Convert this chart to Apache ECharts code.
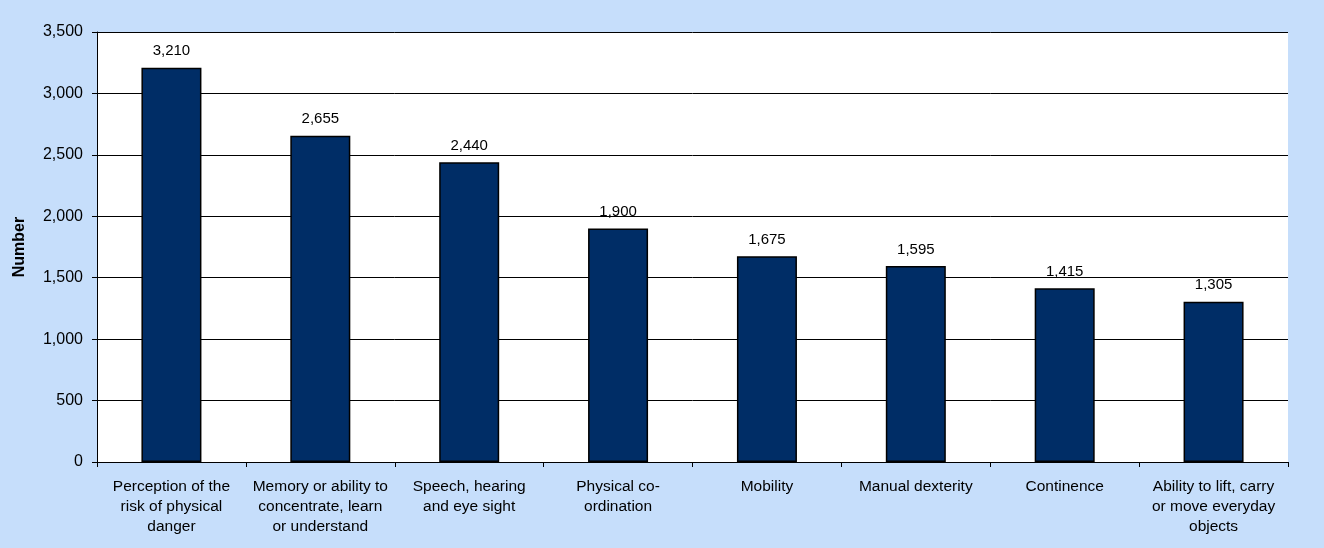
<!DOCTYPE html>
<html>
<head>
<meta charset="utf-8">
<script src="https://cdn.jsdelivr.net/npm/echarts@6/dist/echarts.min.js"></script>
<style>html,body{margin:0;padding:0;background:#C6DEFB;}#c{width:1324px;height:548px;}</style>
</head>
<body>
<div id="c"></div>
<script>
var categories = [
  "Perception of the\nrisk of physical\ndanger",
  "Memory or ability to\nconcentrate, learn\nor understand",
  "Speech, hearing\nand eye sight",
  "Physical co-\nordination",
  "Mobility",
  "Manual dexterity",
  "Continence",
  "Ability to lift, carry\nor move everyday\nobjects"
];
var values = [3210, 2655, 2440, 1900, 1675, 1595, 1415, 1305];
var yTicks = [0, 500, 1000, 1500, 2000, 2500, 3000, 3500];

function fmt(v){ return String(v).replace(/\B(?=(\d{3})+(?!\d))/g, ","); }

var chart = echarts.init(document.getElementById('c'));
chart.setOption({
  backgroundColor: '#C6DEFB',
  animation: false,
  textStyle: { fontFamily: 'Liberation Sans, Arial, sans-serif' },
  graphic: [{
    type: 'rect', shape: { x: 97, y: 32, width: 1191, height: 430 },
    style: { fill: '#ffffff' }, z: -10, silent: true
  }],
  grid: { left: 97, right: 36, top: 32, bottom: 86, containLabel: false },
  xAxis: {
    type: 'category',
    data: categories,
    axisLine: { lineStyle: { color: '#000', width: 1 } },
    axisTick: { show: true, alignWithLabel: false, length: 5, lineStyle: { color: '#000' } },
    axisLabel: { color: '#000', fontSize: 15.5, lineHeight: 20, margin: 15, interval: 0 }
  },
  yAxis: {
    type: 'value',
    min: yTicks[0], max: yTicks[yTicks.length - 1], interval: 500,
    name: 'Number', nameLocation: 'middle', nameGap: 69,
    nameTextStyle: { color: '#000', fontWeight: 'bold', fontSize: 16 },
    axisLine: { show: true, lineStyle: { color: '#000', width: 1 } },
    axisTick: { show: true, length: 5, lineStyle: { color: '#000' } },
    axisLabel: { color: '#000', fontSize: 16, margin: 14, formatter: function(v){ return fmt(v); } },
    splitLine: { show: true, lineStyle: { color: '#000', width: 1 } }
  },
  series: [{
    type: 'bar',
    data: values,
    barWidth: 60,
    itemStyle: { color: '#002D66', borderColor: '#000', borderWidth: 1.5 },
    label: { show: true, position: 'top', distance: 9, color: '#000', fontSize: 15,
             formatter: function(p){ return fmt(p.value); } }
  }]
});
</script>
</body>
</html>
